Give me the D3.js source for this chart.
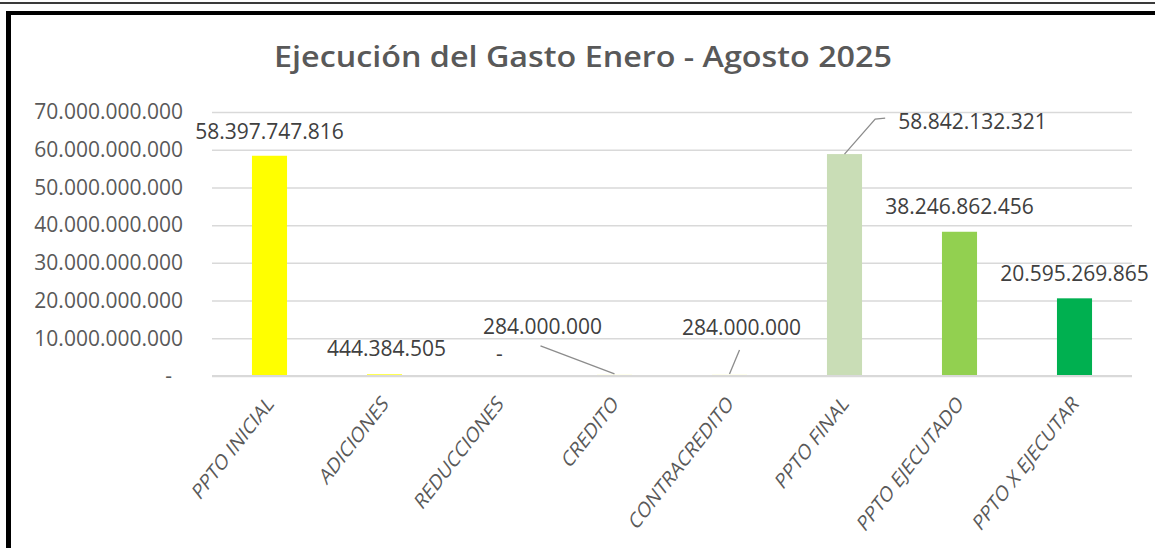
<!DOCTYPE html>
<html>
<head>
<meta charset="utf-8">
<script src="https://cdn.jsdelivr.net/npm/d3@7"></script>
<style>
  html, body { margin: 0; padding: 0; background: #fff; }
  svg { display: block; }
</style>
</head>
<body>
<svg id="chart" width="1155" height="548"></svg>
<script>
// ---- data ----
const title = "Ejecución del Gasto Enero - Agosto 2025";
const categories = ["PPTO INICIAL", "ADICIONES", "REDUCCIONES", "CREDITO", "CONTRACREDITO", "PPTO FINAL", "PPTO EJECUTADO", "PPTO X EJECUTAR"];
const values = [58397747816, 444384505, 0, 284000000, 284000000, 58842132321, 38246862456, 20595269865];
const barColors = ["#FFFF00", "#FFFF00", "#FFFF00", "#FFFF00", "#FFFF00", "#C9DDB6", "#92D050", "#00B050"];
const yTicks = [0, 10000000000, 20000000000, 30000000000, 40000000000, 50000000000, 60000000000, 70000000000];

// label layout (offsets from default position, in px)
const labelDx = [0, 2, 0, -72, 12, 128, 0, 0];
const labelDy = [-24, -26, -22, -48, -47, -32, -25, -25];
const leaderType = ["none", "none", "none", "down", "down", "elbow", "none", "none"];

// ---- layout ----
const svg = d3.select("#chart");
const W = 1155, H = 548;
const plot = { left: 212, right: 1132, top: 112, bottom: 376 };

const locale = d3.formatLocale({ decimal: ",", thousands: ".", grouping: [3], currency: ["", ""] });
const fmt = locale.format(",d");
const fmtVal = v => v === 0 ? "-" : fmt(v);

const x = d3.scaleBand().domain(categories).range([plot.left, plot.right])
  .paddingInner(0.695).paddingOuter(0.3475);
const y = d3.scaleLinear().domain([0, 70000000000]).range([plot.bottom, plot.top]);

// background
svg.append("rect").attr("width", W).attr("height", H).attr("fill", "#fff");

// frame decorations
svg.append("rect").attr("x", 0).attr("y", 2).attr("width", W).attr("height", 2).attr("fill", "#3a3a3a");
svg.append("rect").attr("x", 6).attr("y", 11).attr("width", W - 6).attr("height", 4).attr("fill", "#000");
svg.append("rect").attr("x", 6).attr("y", 11).attr("width", 5).attr("height", H - 11).attr("fill", "#000");

const FONT = "'Open Sans', 'Liberation Sans', sans-serif";

// title
svg.append("text")
  .attr("x", 583).attr("y", 67)
  .attr("text-anchor", "middle")
  .attr("font-family", FONT)
  .attr("font-size", 28)
  .attr("font-weight", 600)
  .attr("fill", "#595959")
  .attr("textLength", 618)
  .attr("lengthAdjust", "spacingAndGlyphs")
  .text(title);

// y axis (gridlines + labels)
const yAxis = d3.axisLeft(y).tickValues(yTicks)
  .tickSize(-(plot.right - plot.left))
  .tickPadding(29)
  .tickFormat(d => d === 0 ? "-" : fmt(d));
const gy = svg.append("g").attr("transform", `translate(${plot.left},0)`).call(yAxis);
gy.select(".domain").remove();
gy.selectAll(".tick line").attr("stroke", "#d9d9d9").attr("stroke-width", 1.5);
gy.selectAll(".tick text")
  .attr("font-family", FONT).attr("font-size", 21).attr("fill", "#595959")
  .attr("dx", d => d === 0 ? -11 : 0);

// bars
svg.append("g").selectAll("rect").data(values).join("rect")
  .attr("x", (d, i) => x(categories[i]))
  .attr("y", d => y(d))
  .attr("width", x.bandwidth())
  .attr("height", d => plot.bottom - y(d))
  .attr("fill", (d, i) => barColors[i]);

// category axis line (drawn over the bars)
svg.append("line")
  .attr("x1", plot.left).attr("x2", plot.right)
  .attr("y1", y(0)).attr("y2", y(0))
  .attr("stroke", "#d9d9d9").attr("stroke-width", 2);

// x axis labels (rotated, slightly condensed as in the reference)
const xAxis = d3.axisBottom(x).tickSize(0).tickPadding(0);
const gx = svg.append("g").attr("transform", `translate(0,${plot.bottom})`).call(xAxis);
gx.select(".domain").remove();
gx.selectAll(".tick text")
  .attr("font-family", FONT).attr("font-size", 22).attr("fill", "#595959")
  .attr("text-anchor", "end")
  .attr("dy", 0)
  .attr("y", 0)
  .attr("transform", "translate(5,29) scale(0.78,1) rotate(-45)");

// data labels
const cx = i => x(categories[i]) + x.bandwidth() / 2;
const lg = svg.append("g");
values.forEach((v, i) => {
  const lx = cx(i) + labelDx[i];
  const ly = y(v) + labelDy[i];
  const t = lg.append("text")
    .attr("x", lx).attr("y", ly)
    .attr("dy", "0.35em")
    .attr("text-anchor", "middle")
    .attr("font-family", FONT).attr("font-size", 21).attr("fill", "#404040")
    .text(fmtVal(v));
  const bb = t.node().getBBox();
  if (leaderType[i] === "down") {
    const sx = lx - 2;
    const sy = ly + (i === 3 ? 19 : 22);
    lg.append("line")
      .attr("x1", sx).attr("y1", sy)
      .attr("x2", cx(i)).attr("y2", y(v) - 1)
      .attr("stroke", "#8c8c8c").attr("stroke-width", 1.3);
  } else if (leaderType[i] === "elbow") {
    lg.append("polyline")
      .attr("points", [[cx(i), y(v)], [bb.x - 23, ly - 3], [bb.x - 13, ly - 4]].map(p => p.join(",")).join(" "))
      .attr("fill", "none")
      .attr("stroke", "#8c8c8c").attr("stroke-width", 1.3);
  }
});
</script>
</body>
</html>
